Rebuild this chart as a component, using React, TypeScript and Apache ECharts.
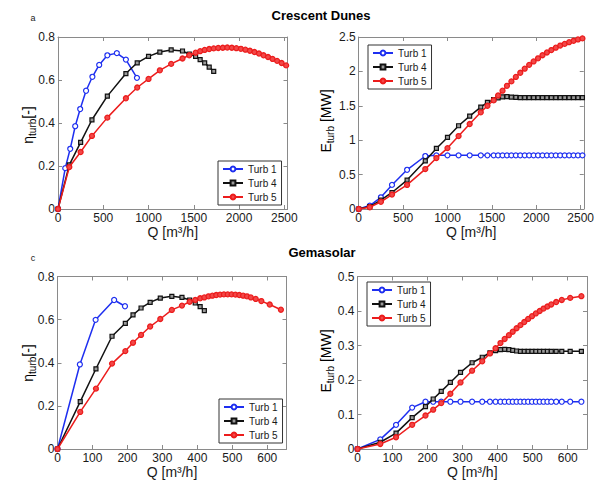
import React, { useEffect, useRef } from 'react';
import * as echarts from 'echarts';

// ---------------- DATA ----------------
// Crescent Dunes flow grid [m3/h]
const qCD = [0, 125, 250, 375, 545, 750, 875, 1000, 1125, 1250, 1375, 1450, 1520, 1570, 1620, 1670, 1720, 1770, 1820, 1870, 1920, 1970, 2020, 2070, 2120, 2170, 2220, 2270, 2320, 2370, 2420, 2470, 2520];
const qCD_t1 = [0, 80, 135, 190, 245, 310, 380, 455, 545, 650, 750, 872];
const etaCD_t1 = [0, 0.19, 0.28, 0.385, 0.465, 0.55, 0.615, 0.67, 0.715, 0.725, 0.695, 0.61];
const etaCD_t4 = [0, 0.205, 0.31, 0.415, 0.525, 0.63, 0.68, 0.71, 0.73, 0.74, 0.735, 0.72, 0.71, 0.695, 0.68, 0.66, 0.64];
const etaCD_t5 = [0, 0.195, 0.265, 0.34, 0.425, 0.515, 0.565, 0.605, 0.645, 0.675, 0.70, 0.715, 0.727, 0.734, 0.740, 0.744, 0.747, 0.749, 0.750, 0.751, 0.750, 0.748, 0.745, 0.741, 0.736, 0.730, 0.723, 0.715, 0.707, 0.698, 0.689, 0.679, 0.668];
const eCD_t1 = [0, 0.05, 0.17, 0.35, 0.57, 0.77, 0.78, 0.78, 0.78, 0.78, 0.78, 0.78, 0.78, 0.78, 0.78, 0.78, 0.78, 0.78, 0.78, 0.78, 0.78, 0.78, 0.78, 0.78, 0.78, 0.78, 0.78, 0.78, 0.78, 0.78, 0.78, 0.78, 0.78];
const eCD_t4 = [0, 0.035, 0.13, 0.24, 0.42, 0.70, 0.88, 1.04, 1.21, 1.35, 1.48, 1.55, 1.59, 1.615, 1.63, 1.632, 1.627, 1.622, 1.62, 1.62, 1.62, 1.62, 1.62, 1.62, 1.62, 1.62, 1.62, 1.62, 1.62, 1.62, 1.62, 1.62, 1.62];
const eCD_t5 = [0, 0.025, 0.105, 0.21, 0.35, 0.58, 0.74, 0.885, 1.06, 1.235, 1.405, 1.50, 1.58, 1.65, 1.72, 1.79, 1.855, 1.92, 1.98, 2.04, 2.095, 2.145, 2.19, 2.235, 2.275, 2.31, 2.345, 2.375, 2.40, 2.425, 2.445, 2.465, 2.48];

// Gemasolar flow grid [m3/h]
const qGS = [0, 65, 110, 156, 194, 216, 239, 265, 294, 327, 356, 378, 394, 408, 420, 432, 443, 454, 465, 476, 487, 498, 509, 520, 531, 542, 553, 567, 583, 607, 639];
const qGS_t1 = [0, 64, 109, 162, 193];
const etaGS_t1 = [0, 0.392, 0.599, 0.691, 0.662];
const etaGS_t4 = [0, 0.22, 0.372, 0.523, 0.583, 0.622, 0.654, 0.68, 0.70, 0.708, 0.703, 0.691, 0.677, 0.66, 0.642];
const etaGS_t5 = [0, 0.172, 0.28, 0.396, 0.454, 0.493, 0.529, 0.568, 0.603, 0.645, 0.665, 0.683, 0.691, 0.699, 0.703, 0.708, 0.711, 0.714, 0.716, 0.717, 0.717, 0.717, 0.716, 0.714, 0.711, 0.708, 0.703, 0.696, 0.686, 0.670, 0.646];
const eGS_t1 = [0, 0.028, 0.07, 0.12, 0.137, 0.137, 0.137, 0.137, 0.137, 0.137, 0.137, 0.137, 0.137, 0.137, 0.137, 0.137, 0.137, 0.137, 0.137, 0.137, 0.137, 0.137, 0.137, 0.137, 0.137, 0.137, 0.137, 0.137, 0.137, 0.137, 0.137];
const eGS_t4 = [0, 0.0195, 0.046, 0.091, 0.123, 0.145, 0.167, 0.193, 0.222, 0.250, 0.266, 0.279, 0.285, 0.288, 0.289, 0.288, 0.286, 0.284, 0.283, 0.283, 0.283, 0.283, 0.283, 0.283, 0.283, 0.283, 0.283, 0.283, 0.283, 0.283, 0.283];
const eGS_t5 = [0, 0.0146, 0.034, 0.07, 0.097, 0.114, 0.133, 0.160, 0.193, 0.227, 0.254, 0.277, 0.292, 0.307, 0.319, 0.330, 0.340, 0.350, 0.359, 0.368, 0.377, 0.385, 0.393, 0.400, 0.407, 0.413, 0.419, 0.426, 0.432, 0.438, 0.443];

const seriesNames = ['Turb 1', 'Turb 4', 'Turb 5'];
const xTitle = 'Q [m³/h]';
const panelTitles = ['Crescent Dunes', 'Gemasolar'];
const panelLetters = ['a', 'c'];

// ---------------- STYLE ----------------
const FONT = '"Liberation Sans", Arial, Helvetica, sans-serif';
const C_BLUE = '#1e2ff0';
const C_BLACK = '#111111';
const C_RED = '#ec1c1c';
const AXIS_C = '#8a8a8a';
const TXT_C = '#1a1a1a';

const zip = (xs: number[], ys: number[]) => ys.map((y, i) => [xs[i], y]);

const panels = [
  { grid: { left: 58, top: 37, width: 229.5, height: 172 }, xMax: 2535, xInt: 500, yMax: 0.8, yInt: 0.2,
    data: [zip(qCD_t1, etaCD_t1), zip(qCD, etaCD_t4), zip(qCD, etaCD_t5)],
    legend: { left: 218, top: 161 } },
  { grid: { left: 358.7, top: 37, width: 230.3, height: 172 }, xMax: 2535, xInt: 500, yMax: 2.5, yInt: 0.5,
    data: [zip(qCD, eCD_t1), zip(qCD, eCD_t4), zip(qCD, eCD_t5)],
    legend: { left: 368, top: 45 } },
  { grid: { left: 57.5, top: 276.5, width: 229, height: 172.5 }, xMax: 655, xInt: 100, yMax: 0.8, yInt: 0.2,
    data: [zip(qGS_t1, etaGS_t1), zip(qGS, etaGS_t4), zip(qGS, etaGS_t5)],
    legend: { left: 219, top: 399 } },
  { grid: { left: 357.5, top: 276.5, width: 229.5, height: 172.5 }, xMax: 655, xInt: 100, yMax: 0.5, yInt: 0.1,
    data: [zip(qGS, eGS_t1), zip(qGS, eGS_t4), zip(qGS, eGS_t5)],
    legend: { left: 367, top: 282 } },
];

const seriesStyle = [
  { color: C_BLUE, fill: '#ffffff', symbol: 'circle', symbolSize: 5, bw: 1.2 },
  { color: C_BLACK, fill: '#9a9a9a', symbol: 'rect', symbolSize: 4, bw: 1.2 },
  { color: C_RED, fill: '#f24848', symbol: 'circle', symbolSize: 5, bw: 1.3 },
];

function buildOption() {
  const grid: any[] = [];
  const xAxis: any[] = [];
  const yAxis: any[] = [];
  const series: any[] = [];
  const legend: any[] = [];

  panels.forEach((p, gi) => {
    grid.push({ ...p.grid, containLabel: false, show: false });
    const xMain = {
      type: 'value', gridIndex: gi, min: 0, max: p.xMax, interval: p.xInt, position: 'bottom',
      name: xTitle, nameLocation: 'middle', nameGap: 16,
      nameTextStyle: { fontFamily: FONT, fontSize: 14, color: TXT_C },
      axisLine: { show: true, onZero: false, lineStyle: { color: AXIS_C, width: 1 } },
      axisTick: { show: true, inside: true, length: 4, lineStyle: { color: AXIS_C } },
      axisLabel: { show: true, margin: 3, fontFamily: FONT, fontSize: 12, color: TXT_C, showMaxLabel: true,
        formatter: (v: number) => (Math.abs(v / p.xInt - Math.round(v / p.xInt)) < 1e-6 ? String(v) : '') },
      splitLine: { show: false },
    };
    const xTop = {
      type: 'value', gridIndex: gi, min: 0, max: p.xMax, interval: p.xInt, position: 'top',
      axisLine: { show: true, onZero: false, lineStyle: { color: AXIS_C, width: 1 } },
      axisTick: { show: true, inside: true, length: 4, lineStyle: { color: AXIS_C } },
      axisLabel: { show: false }, splitLine: { show: false },
    };
    const yMain = {
      type: 'value', gridIndex: gi, min: 0, max: p.yMax, interval: p.yInt, position: 'left',
      axisLine: { show: true, onZero: false, lineStyle: { color: AXIS_C, width: 1 } },
      axisTick: { show: true, inside: true, length: 4, lineStyle: { color: AXIS_C } },
      axisLabel: { show: true, margin: 3, fontFamily: FONT, fontSize: 12, color: TXT_C,
        formatter: (v: number) => String(Math.round(v * 1000) / 1000) },
      splitLine: { show: false },
    };
    const yRight = {
      type: 'value', gridIndex: gi, min: 0, max: p.yMax, interval: p.yInt, position: 'right',
      axisLine: { show: true, onZero: false, lineStyle: { color: AXIS_C, width: 1 } },
      axisTick: { show: true, inside: true, length: 4, lineStyle: { color: AXIS_C } },
      axisLabel: { show: false }, splitLine: { show: false },
    };
    xAxis.push(xMain, xTop);
    yAxis.push(yMain, yRight);

    p.data.forEach((d, si) => {
      const st = seriesStyle[si];
      series.push({
        type: 'line', name: seriesNames[si], xAxisIndex: gi * 2, yAxisIndex: gi * 2, data: d,
        symbol: st.symbol, symbolSize: st.symbolSize, showSymbol: true, showAllSymbol: true,
        color: st.color,
        lineStyle: { color: st.color, width: 1.5 },
        itemStyle: { color: st.fill, borderColor: st.color, borderWidth: st.bw },
        emphasis: { disabled: true }, z: 2 + si,
        clip: false,
      });
    });

    legend.push({
      data: seriesNames, orient: 'vertical', left: p.legend.left, top: p.legend.top,
      itemWidth: 20, itemHeight: 6, itemGap: 2, selectedMode: false,
      padding: [2, 5, 2, 4], borderColor: '#333', borderWidth: 1, backgroundColor: '#fff', borderRadius: 0,
      textStyle: { fontFamily: FONT, fontSize: 10, lineHeight: 12, color: TXT_C },
      z: 10,
    });
  });

  const richMain = { fontFamily: FONT, fontSize: 14, color: TXT_C, lineHeight: 16, verticalAlign: 'top' };
  const richSub = { fontFamily: FONT, fontSize: 10, color: TXT_C, lineHeight: 12, padding: [7, 0, 0, 0], verticalAlign: 'bottom' };

  const yLabel = (x: number, y: number, main: string, after: string) => ({
    type: 'text', x, y, rotation: Math.PI / 2,
    style: {
      text: `{a|${main}}{s|turb}{a|${after}}`,
      rich: { a: richMain, s: richSub },
      align: 'center', verticalAlign: 'middle',
    },
  });

  const graphic: any[] = [
    { type: 'text', x: 33, y: 18, style: { text: panelLetters[0], fontFamily: FONT, fontSize: 9, fill: TXT_C, align: 'center', verticalAlign: 'middle' } },
    { type: 'text', x: 321, y: 15, style: { text: panelTitles[0], fontFamily: FONT, fontSize: 13, fontWeight: 'bold', fill: '#000', align: 'center', verticalAlign: 'middle' } },
    { type: 'text', x: 33, y: 258, style: { text: panelLetters[1], fontFamily: FONT, fontSize: 9, fill: TXT_C, align: 'center', verticalAlign: 'middle' } },
    { type: 'text', x: 322, y: 252, style: { text: panelTitles[1], fontFamily: FONT, fontSize: 13, fontWeight: 'bold', fill: '#000', align: 'center', verticalAlign: 'middle' } },
    yLabel(29, 125, 'η', '[-]'),
    yLabel(327, 121, 'E', ' [MW]'),
    yLabel(29, 363, 'η', '[-]'),
    yLabel(327, 361, 'E', ' [MW]'),
  ];

  return {
    animation: false,
    backgroundColor: '#fff',
    textStyle: { fontFamily: FONT },
    grid, xAxis, yAxis, series, legend, graphic,
  };
}

export default function App() {
  const ref = useRef<HTMLDivElement>(null);
  useEffect(() => {
    if (!ref.current) return;
    const chart = echarts.init(ref.current, null, { renderer: 'svg' });
    chart.setOption(buildOption() as any);
    return () => chart.dispose();
  }, []);
  return (
    <div
      ref={ref}
      style={{ position: 'absolute', left: 0, top: 0, width: 597, height: 486, background: '#fff' }}
    />
  );
}
